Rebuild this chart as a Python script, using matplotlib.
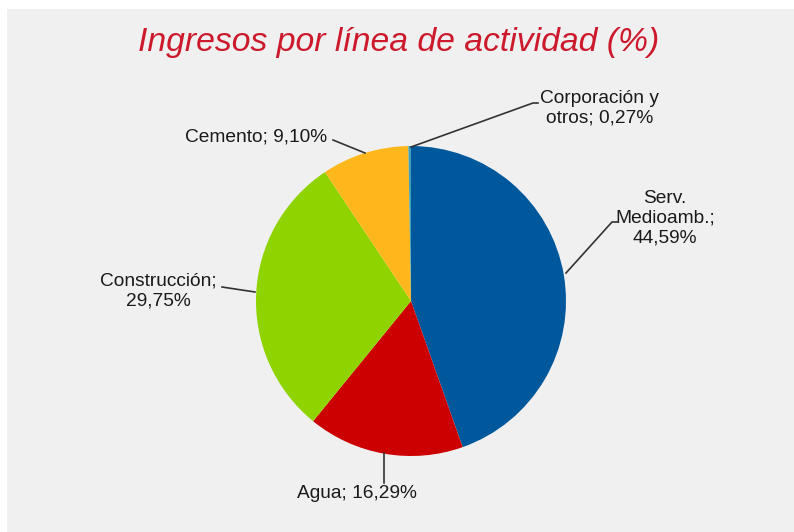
import matplotlib
matplotlib.use("Agg")
import matplotlib.pyplot as plt

categories = ["Serv.\nMedioamb.;", "Agua;", "Construcción;", "Cemento;", "Corporación y\notros;"]
values = [44.59, 16.29, 29.75, 9.10, 0.27]
value_labels = ["44,59%", "16,29%", "29,75%", "9,10%", "0,27%"]
colors = ["#00589c", "#cc0000", "#8fd400", "#ffb71b", "#3f9fb8"]

W, H = 794, 532
fig = plt.figure(figsize=(W / 100, H / 100), dpi=100)
fig.patch.set_facecolor("white")
ax = fig.add_axes([0, 0, 1, 1])

# gray panel
ax.add_patch(plt.Rectangle((7, 0), W - 7, H - 9, facecolor="#f0f0f0", edgecolor="none", zorder=0))

cx, cy, r = 411, H - 301, 155
wedges, _ = ax.pie(values, colors=colors, startangle=90, counterclock=False,
                   center=(cx, cy), radius=r, frame=True,
                   wedgeprops=dict(linewidth=0))
ax.set_xlim(0, W)
ax.set_ylim(0, H)
ax.set_aspect("equal")
ax.axis("off")

fig.text(0.502, 1 - 43 / H, "Ingresos por línea de actividad (%)", ha="center", va="center",
         fontsize=24.3, style="italic", color="#cc1a2c", family="Liberation Sans")

def Y(y):
    return H - y

texts = [
    categories[0] + "\n" + value_labels[0],
    categories[1] + " " + value_labels[1],
    categories[2] + "\n" + value_labels[2],
    categories[3] + " " + value_labels[3],
    categories[4] + " " + value_labels[4],
]
pos = [(665, 218), (357, 493), (158, 291), (256, 137), (600, 108)]
lines = [
    [(566, 273), (612, 222), (618, 222)],
    [(384, 453), (384, 483)],
    [(255, 292), (222, 287)],
    [(365, 153), (333, 140)],
    [(411, 147), (533, 103), (538, 103)],
]
for t, (x, y), ln in zip(texts, pos, lines):
    ax.text(x, Y(y), t, ha="center", va="center", fontsize=13.8, color="#1a1a1a",
            family="Liberation Sans", linespacing=1.2)
    xs = [p[0] for p in ln]
    ys = [Y(p[1]) for p in ln]
    ax.plot(xs, ys, color="#333333", lw=1.2, zorder=5)

fig.savefig("out.png", dpi=100, facecolor=fig.get_facecolor())
